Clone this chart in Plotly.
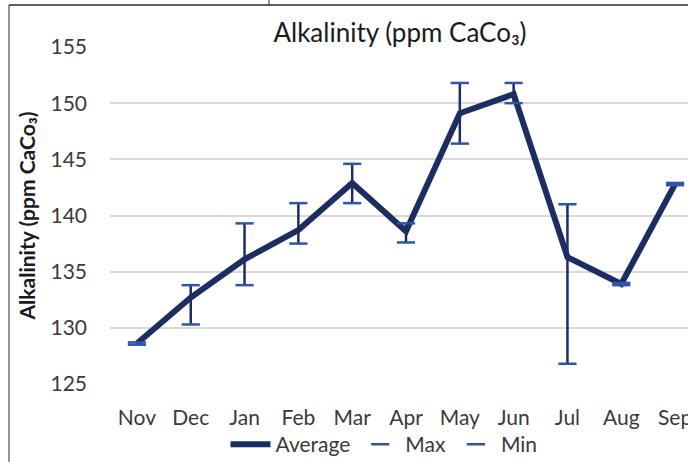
import plotly.graph_objects as go

months = ["Nov", "Dec", "Jan", "Feb", "Mar", "Apr", "May", "Jun", "Jul", "Aug", "Sep"]
average = [128.6, 132.7, 136.1, 138.7, 142.9, 138.6, 149.1, 150.8, 136.3, 133.9, 142.8]
max_vals = [128.7, 133.8, 139.3, 141.1, 144.6, 139.3, 151.8, 151.8, 141.0, 134.0, 142.9]
min_vals = [128.5, 130.3, 133.8, 137.5, 141.1, 137.6, 146.4, 150.0, 126.8, 133.8, 142.7]
y_ticks = [125, 130, 135, 140, 145, 150, 155]

NAVY = "#1B2D63"
BLUE = "#2E55A8"
FONT = "Lato"
W, H = 688, 462
L, R, T, B = 110, 0, 47, 78
pw, ph = W - L - R, H - T - B

def px(x):
    return (x - L) / pw

def py(y):
    return (H - B - y) / ph

# high-low connector lines built from max/min data
hl_x, hl_y = [], []
for m, hi, lo in zip(months, max_vals, min_vals):
    hl_x += [m, m, None]
    hl_y += [lo, hi, None]

fig = go.Figure()
fig.add_trace(go.Scatter(x=hl_x, y=hl_y, mode="lines", line=dict(color=NAVY, width=2.5),
                         showlegend=False, hoverinfo="skip"))
fig.add_trace(go.Scatter(x=months, y=average, mode="lines", name="Average",
                         line=dict(color=NAVY, width=6), legendrank=1))
fig.add_trace(go.Scatter(x=months, y=max_vals, mode="markers", name="Max",
                         marker=dict(symbol="line-ew", size=13, line=dict(color=BLUE, width=2.5)),
                         legendrank=2))
fig.add_trace(go.Scatter(x=months, y=min_vals, mode="markers", name="Min",
                         marker=dict(symbol="line-ew", size=13, line=dict(color=BLUE, width=2.5)),
                         legendrank=3))

shapes = [
    dict(type="line", xref="paper", yref="paper", x0=px(9), x1=px(688), y0=py(5), y1=py(5),
         line=dict(color="#2b2b2b", width=1.5)),
    dict(type="line", xref="paper", yref="paper", x0=px(9), x1=px(9), y0=py(5), y1=py(462),
         line=dict(color="#2b2b2b", width=1)),
    dict(type="line", xref="paper", yref="paper", x0=px(269), x1=px(269), y0=py(0), y1=py(5),
         line=dict(color="#2b2b2b", width=1)),
]

fig.update_layout(
    width=W, height=H,
    margin=dict(l=L, r=R, t=T, b=B, autoexpand=False),
    paper_bgcolor="white", plot_bgcolor="white",
    font=dict(family=FONT, color="#3a3a3a"),
    title=dict(text="Alkalinity (ppm CaCo₃)", x=px(400), xanchor="center", xref="paper",
               y=1 - 33 / H, yanchor="middle", font=dict(size=26, color="#1a1a1a", family=FONT)),
    xaxis=dict(range=[-0.5, 10.24], showgrid=False, zeroline=False, showline=False,
               tickfont=dict(size=21, color="#3a3a3a"), ticks="", ticklabelstandoff=19,
               fixedrange=True),
    yaxis=dict(range=[125, 155], tickvals=y_ticks, showgrid=True, gridcolor="#d9d9d9", gridwidth=1.5,
               zeroline=False, showline=False, ticks="", ticklabelstandoff=22,
               tickfont=dict(size=21, color="#3a3a3a"), fixedrange=True,
               title=dict(text="<b>Alkalinity (ppm CaCo₃)</b>", font=dict(size=21, color="#1a1a1a"),
                          standoff=9)),
    legend=dict(orientation="h", x=px(384), xanchor="center", y=py(424), yanchor="top",
                font=dict(size=21, color="#3a3a3a"), bgcolor="rgba(0,0,0,0)", itemwidth=40),
    shapes=shapes,
    showlegend=True,
)

fig.write_html("out.html", config={"displayModeBar": False},
               post_script="document.body.style.margin='0';document.body.style.overflow='hidden';")
